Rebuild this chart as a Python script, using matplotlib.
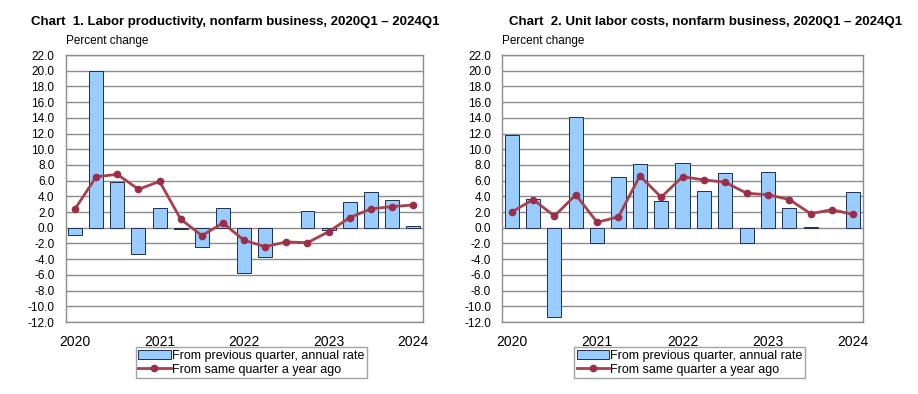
import matplotlib.pyplot as plt
import numpy as np

plt.rcParams['font.family'] = ['Liberation Sans', 'DejaVu Sans']

# 2020Q1 .. 2024Q1
quarters = ['2020Q1', '2020Q2', '2020Q3', '2020Q4', '2021Q1', '2021Q2', '2021Q3', '2021Q4',
            '2022Q1', '2022Q2', '2022Q3', '2022Q4', '2023Q1', '2023Q2', '2023Q3', '2023Q4',
            '2024Q1']
year_labels = ['2020', '2021', '2022', '2023', '2024']

# Chart 1: labor productivity
prod_qtr = [-0.9, 19.9, 5.8, -3.3, 2.5, -0.1, -2.5, 2.5,
            -5.7, -3.7, 0.0, 2.1, -0.3, 3.3, 4.6, 3.5, 0.2]
prod_yoy = [2.4, 6.5, 6.8, 4.9, 5.9, 1.1, -1.0, 0.6,
            -1.6, -2.4, -1.8, -1.9, -0.5, 1.3, 2.4, 2.7, 2.9]

# Chart 2: unit labor costs
ulc_qtr = [11.8, 3.7, -11.4, 14.1, -1.9, 6.5, 8.1, 3.4,
           8.3, 4.7, 7.0, -2.0, 7.1, 2.5, 0.1, 0.0, 4.6]
ulc_yoy = [2.0, 3.6, 1.5, 4.2, 0.7, 1.4, 6.6, 3.9,
           6.5, 6.1, 5.8, 4.4, 4.2, 3.6, 1.8, 2.3, 1.7]

titles = ['Chart  1. Labor productivity, nonfarm business, 2020Q1 \u2013 2024Q1',
          'Chart  2. Unit labor costs, nonfarm business, 2020Q1 \u2013 2024Q1']

BAR = '#99CCFF'
EDGE = '#1F2F4F'
LINE = '#A8404C'


def dibuja(fig, rect, qtr, yoy, title, title_x):
    ax = fig.add_axes(rect)
    x = np.arange(len(quarters))
    for y in np.arange(-12, 23, 2):
        ax.axhline(y, color='#8C8C8C', lw=1.0, zorder=0)
    # bars with zero value are not drawn
    anchos = [0.66 if v != 0 else 0 for v in qtr]
    barras = ax.bar(x, qtr, width=anchos, color=BAR, edgecolor=EDGE, linewidth=0.7,
                    zorder=2, label='From previous quarter, annual rate')
    linea, = ax.plot(x, yoy, color=LINE, lw=2.0, marker='o', ms=4.5,
                     markerfacecolor='#9B2D4B', markeredgecolor='#9B2D4B',
                     zorder=3, label='From same quarter a year ago')
    ax.set_xlim(-0.45, 16.45)
    ax.set_ylim(-12, 22)
    ax.set_yticks(np.arange(-12, 23, 2))
    ax.set_yticklabels([f'{v:.1f}' for v in np.arange(-12, 23, 2)], fontsize=8.5)
    ax.set_xticks(x[::4])
    ax.set_xticklabels(year_labels, fontsize=10)
    ax.tick_params(axis='x', length=0, pad=9)
    ax.tick_params(axis='y', length=0, pad=8)
    for s in ax.spines.values():
        s.set_color('#8C8C8C')
        s.set_linewidth(1.0)
    ax.text(0.0, 1.03, 'Percent change', transform=ax.transAxes, fontsize=8.5,
            ha='left', va='bottom')
    fig.text(title_x, 0.945, title, fontsize=9.5, fontweight='bold',
             ha='left', va='center')
    ax.legend([barras, linea], [barras.get_label(), linea.get_label()],
              loc='upper center', bbox_to_anchor=(0.52, -0.095), ncol=1,
              fontsize=9, frameon=True, fancybox=False, edgecolor='#8C8C8C',
              borderpad=0.2, labelspacing=0.15, handlelength=2.6,
              handletextpad=0.1, borderaxespad=0)
    return ax


def main():
    fig = plt.figure(figsize=(9.18, 3.94), dpi=100)
    dibuja(fig, [0.0714, 0.1827, 0.389, 0.6777], prod_qtr, prod_yoy, titles[0], 0.034)
    dibuja(fig, [0.547, 0.1827, 0.393, 0.6777], ulc_qtr, ulc_yoy, titles[1], 0.555)
    fig.savefig('out.png', dpi=100)


if __name__ == "__main__":
    main()
